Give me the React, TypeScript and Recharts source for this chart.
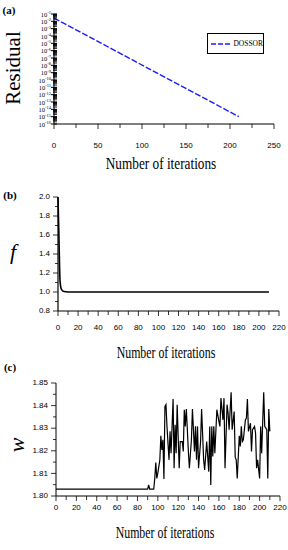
import React from "react";
import { LineChart, Line, XAxis, YAxis, Legend } from "recharts";

// (a) residual vs iterations
const residualIters = [0, 210];
const residualValues = [0.028, 1e-15];
const residualExps = [-1, -2, -3, -4, -5, -6, -7, -8, -9, -10, -11, -12, -13, -14, -15, -16];
const residualXTicks = [0, 25, 50, 75, 100, 125, 150, 175, 200, 225, 250];
const residualXLabels = [0, 50, 100, 150, 200, 250];

// (b) f vs iterations
const fIters = [0, 1, 2, 3, 4, 6, 10, 210];
const fValues = [2.0, 1.55, 1.12, 1.04, 1.02, 1.005, 1.0, 1.0];
const fYTicks = [0.8, 0.9, 1.0, 1.1, 1.2, 1.3, 1.4, 1.5, 1.6, 1.7, 1.8, 1.9, 2.0];
const fYLabels = [0.8, 1.0, 1.2, 1.4, 1.6, 1.8, 2.0];

// (c) w vs iterations
const wIters = [
  0, 90, 91, 92, 96, 97, 98, 99, 100, 102, 103, 104, 105, 106, 107, 108, 109, 110, 111, 112,
  113, 114, 115, 116, 117, 118, 119, 121, 122, 124, 125, 126, 127, 128, 129, 130, 131, 133,
  134, 136, 137, 138, 139, 140, 142, 143, 145, 146, 148, 150, 151, 152, 153, 154, 155, 156,
  158, 160, 161, 162, 164, 165, 166, 168, 169, 170, 172, 173, 175, 176, 177, 178, 180, 181,
  182, 183, 184, 186, 187, 188, 189, 191, 192, 193, 195, 196, 197, 198, 200, 201, 202, 204,
  205, 207, 208, 209, 210,
];
const wValues = [
  1.803, 1.803, 1.8049, 1.803, 1.803, 1.8078, 1.8148, 1.8078, 1.8101, 1.816, 1.8266, 1.8204,
  1.8249, 1.8075, 1.8396, 1.8404, 1.8308, 1.8234, 1.816, 1.8286, 1.8189, 1.8308, 1.8429,
  1.8123, 1.8315, 1.8189, 1.8404, 1.8123, 1.8241, 1.8241, 1.8197, 1.8382, 1.8308, 1.8385,
  1.8293, 1.8197, 1.8123, 1.8249, 1.8385, 1.8197, 1.8308, 1.816, 1.8308, 1.8123, 1.8241,
  1.8385, 1.816, 1.8115, 1.8241, 1.8108, 1.8308, 1.8049, 1.8308, 1.8175, 1.8308, 1.8189,
  1.8382, 1.833, 1.8308, 1.8433, 1.8337, 1.8433, 1.8123, 1.8404, 1.8367, 1.8293, 1.8459,
  1.8293, 1.8374, 1.8172, 1.816, 1.8078, 1.8266, 1.8219, 1.8308, 1.8241, 1.8249, 1.8337,
  1.8345, 1.8429, 1.8286, 1.8322, 1.8197, 1.8293, 1.8308, 1.8278, 1.8123, 1.816, 1.8078,
  1.8308, 1.8189, 1.8459, 1.8308, 1.8293, 1.8078, 1.8385, 1.8286,
];
const wYTicks = [1.8, 1.805, 1.81, 1.815, 1.82, 1.825, 1.83, 1.835, 1.84, 1.845, 1.85];
const wYLabels = [1.8, 1.81, 1.82, 1.83, 1.84, 1.85];

const iterXTicks = [0, 10, 20, 30, 40, 50, 60, 70, 80, 90, 100, 110, 120, 130, 140, 150, 160, 170, 180, 190, 200, 210, 220];
const iterXLabels = [0, 20, 40, 60, 80, 100, 120, 140, 160, 180, 200, 220];

const minorSteps = [2, 3, 4, 5, 6, 7, 8, 9];
const residualYTicks: number[] = [];
residualExps.forEach((e) => {
  residualYTicks.push(Math.pow(10, e));
  if (e > -16) minorSteps.forEach((k) => residualYTicks.push(k * Math.pow(10, e - 1)));
});

const residualData = residualIters.map((it, i) => ({ iter: it, residual: residualValues[i] }));
const fData = fIters.map((it, i) => ({ iter: it, f: fValues[i] }));
const wData = wIters.map((it, i) => ({ iter: it, w: wValues[i] }));

const tickFont = "'Liberation Sans Narrow', 'Liberation Sans', Arial, sans-serif";
const serif = "'Liberation Serif', 'Times New Roman', serif";

const isIn = (list: number[], v: number) => list.some((t) => Math.abs(t - v) < 1e-9);

const LogYTick = (props: any) => {
  const { x, y, payload } = props;
  const lg = Math.log10(payload.value);
  const exp = Math.round(lg);
  if (Math.abs(lg - exp) > 1e-6) {
    return <line x1={x - 1} x2={x + 3} y1={y} y2={y} stroke="#000" strokeWidth={0.8} />;
  }
  return (
    <g>
      <line x1={x - 3} x2={x + 3} y1={y} y2={y} stroke="#000" strokeWidth={1} />
      <text x={x - 3} y={y + 2.5} textAnchor="end" fontSize={6.5} fontFamily={serif} fill="#000">
        10
        <tspan dy={-2.5} fontSize={4.5}>
          {exp}
        </tspan>
      </text>
    </g>
  );
};

const makeXTick = (labels: number[], gap: number) => (props: any) => {
  const { x, y, payload } = props;
  const major = isIn(labels, payload.value);
  return (
    <g>
      <line x1={x} x2={x} y1={y} y2={y + (major ? 5 : 4)} stroke="#000" strokeWidth={0.8} />
      {major && (
        <text x={x} y={y + gap} textAnchor="middle" fontSize={8} fontFamily={tickFont} fill="#000" dominantBaseline="middle">
          {payload.value}
        </text>
      )}
    </g>
  );
};

const makeYTick = (labels: number[], digits: number) => (props: any) => {
  const { x, y, payload } = props;
  const major = isIn(labels, payload.value);
  return (
    <g>
      <line x1={x - (major ? 5 : 3)} x2={x} y1={y} y2={y} stroke="#000" strokeWidth={0.8} />
      {major && (
        <text x={x - 8} y={y} textAnchor="end" fontSize={8} fontFamily={tickFont} fill="#000" dominantBaseline="middle">
          {payload.value.toFixed(digits)}
        </text>
      )}
    </g>
  );
};

const LegendBox = () => (
  <div
    style={{
      width: 57,
      height: 21,
      border: "1px solid #000",
      boxSizing: "border-box",
      display: "flex",
      alignItems: "center",
      background: "#fff",
    }}
  >
    <svg width={24} height={6} style={{ marginLeft: 2 }}>
      <line x1={1} x2={22} y1={3} y2={3} stroke="#1a1aff" strokeWidth={1.3} strokeDasharray="5 2" />
    </svg>
    <span style={{ fontFamily: serif, fontSize: 7.5, color: "#000" }}>DOSSOR</span>
  </div>
);

const label = (
  text: string,
  left: number,
  top: number,
  style: React.CSSProperties,
  transform = ""
) => (
  <div
    style={{
      position: "absolute",
      left,
      top,
      transform: `translate(-50%, -50%) ${transform}`,
      whiteSpace: "nowrap",
      lineHeight: 1,
      color: "#000",
      fontFamily: serif,
      ...style,
    }}
  >
    {text}
  </div>
);

export default function App() {
  return (
    <div style={{ position: "absolute", left: 0, top: 0, width: 288, height: 550, background: "#fff" }}>
      <div style={{ position: "absolute", left: 0, top: 0 }}>
        <LineChart width={288} height={175} data={residualData} margin={{ top: 14, right: 14, bottom: 21, left: 0 }}>
          <XAxis
            dataKey="iter"
            type="number"
            domain={[0, 250]}
            ticks={residualXTicks}
            interval={0}
            tickSize={0}
            tickMargin={0}
            tickLine={false}
            height={30}
            stroke="#000"
            tick={makeXTick(residualXLabels, 22)}
          />
          <YAxis
            type="number"
            scale="log"
            domain={[1e-16, 1e-1]}
            allowDataOverflow
            ticks={residualYTicks}
            interval={0}
            tickSize={0}
            tickMargin={0}
            tickLine={false}
            width={54}
            stroke="#000"
            tick={<LogYTick />}
          />
          <Legend
            layout="vertical"
            align="center"
            verticalAlign="middle"
            content={() => <LegendBox />}
            wrapperStyle={{ position: "absolute", left: 207, top: 33, width: 57, height: 21 }}
          />
          <Line
            dataKey="residual"
            name="DOSSOR"
            stroke="#1a1aff"
            strokeWidth={1.4}
            strokeDasharray="6 2"
            dot={false}
            isAnimationActive={false}
          />
        </LineChart>
      </div>

      <div style={{ position: "absolute", left: 0, top: 180 }}>
        <LineChart width={288} height={180} data={fData} margin={{ top: 17, right: 9, bottom: 19, left: 0 }}>
          <XAxis
            dataKey="iter"
            type="number"
            domain={[0, 220]}
            ticks={iterXTicks}
            interval={0}
            tickSize={0}
            tickMargin={0}
            tickLine={false}
            height={30}
            stroke="#000"
            tick={makeXTick(iterXLabels, 16.5)}
          />
          <YAxis
            type="number"
            domain={[0.8, 2.0]}
            ticks={fYTicks}
            interval={0}
            tickSize={0}
            tickMargin={0}
            tickLine={false}
            width={58}
            stroke="#000"
            strokeWidth={1.2}
            tick={makeYTick(fYLabels, 1)}
          />
          <Line dataKey="f" stroke="#000" strokeWidth={1.6} dot={false} type="monotone" isAnimationActive={false} />
        </LineChart>
      </div>

      <div style={{ position: "absolute", left: 0, top: 360 }}>
        <LineChart width={288} height={190} data={wData} margin={{ top: 23, right: 8, bottom: 24, left: 0 }}>
          <XAxis
            dataKey="iter"
            type="number"
            domain={[0, 220]}
            ticks={iterXTicks}
            interval={0}
            tickSize={0}
            tickMargin={0}
            tickLine={false}
            height={30}
            stroke="#000"
            tick={makeXTick(iterXLabels, 11.5)}
          />
          <YAxis
            type="number"
            domain={[1.8, 1.85]}
            ticks={wYTicks}
            interval={0}
            tickSize={0}
            tickMargin={0}
            tickLine={false}
            width={56}
            stroke="#000"
            tick={makeYTick(wYLabels, 2)}
          />
          <Line dataKey="w" stroke="#000" strokeWidth={1.2} dot={false} isAnimationActive={false} />
        </LineChart>
      </div>

      {label("(a)", 9, 10, { fontSize: 11, fontWeight: "bold" })}
      {label("Residual", 13, 68, { fontSize: 21 }, "rotate(-90deg)")}
      {label("Number of iterations", 160.5, 163, { fontSize: 17 }, "scaleX(0.78)")}

      {label("(b)", 10, 195, { fontSize: 11, fontWeight: "bold" })}
      {label("f", 13, 252, { fontSize: 22, fontStyle: "italic" })}
      {label("Number of iterations", 165.5, 353, { fontSize: 16 }, "scaleX(0.74)")}

      {label("(c)", 10, 367, { fontSize: 11, fontWeight: "bold" })}
      {label("w", 17, 445, { fontSize: 22, fontStyle: "italic" }, "rotate(-90deg)")}
      {label("Number of iterations", 164.5, 533, { fontSize: 16 }, "scaleX(0.74)")}
    </div>
  );
}
